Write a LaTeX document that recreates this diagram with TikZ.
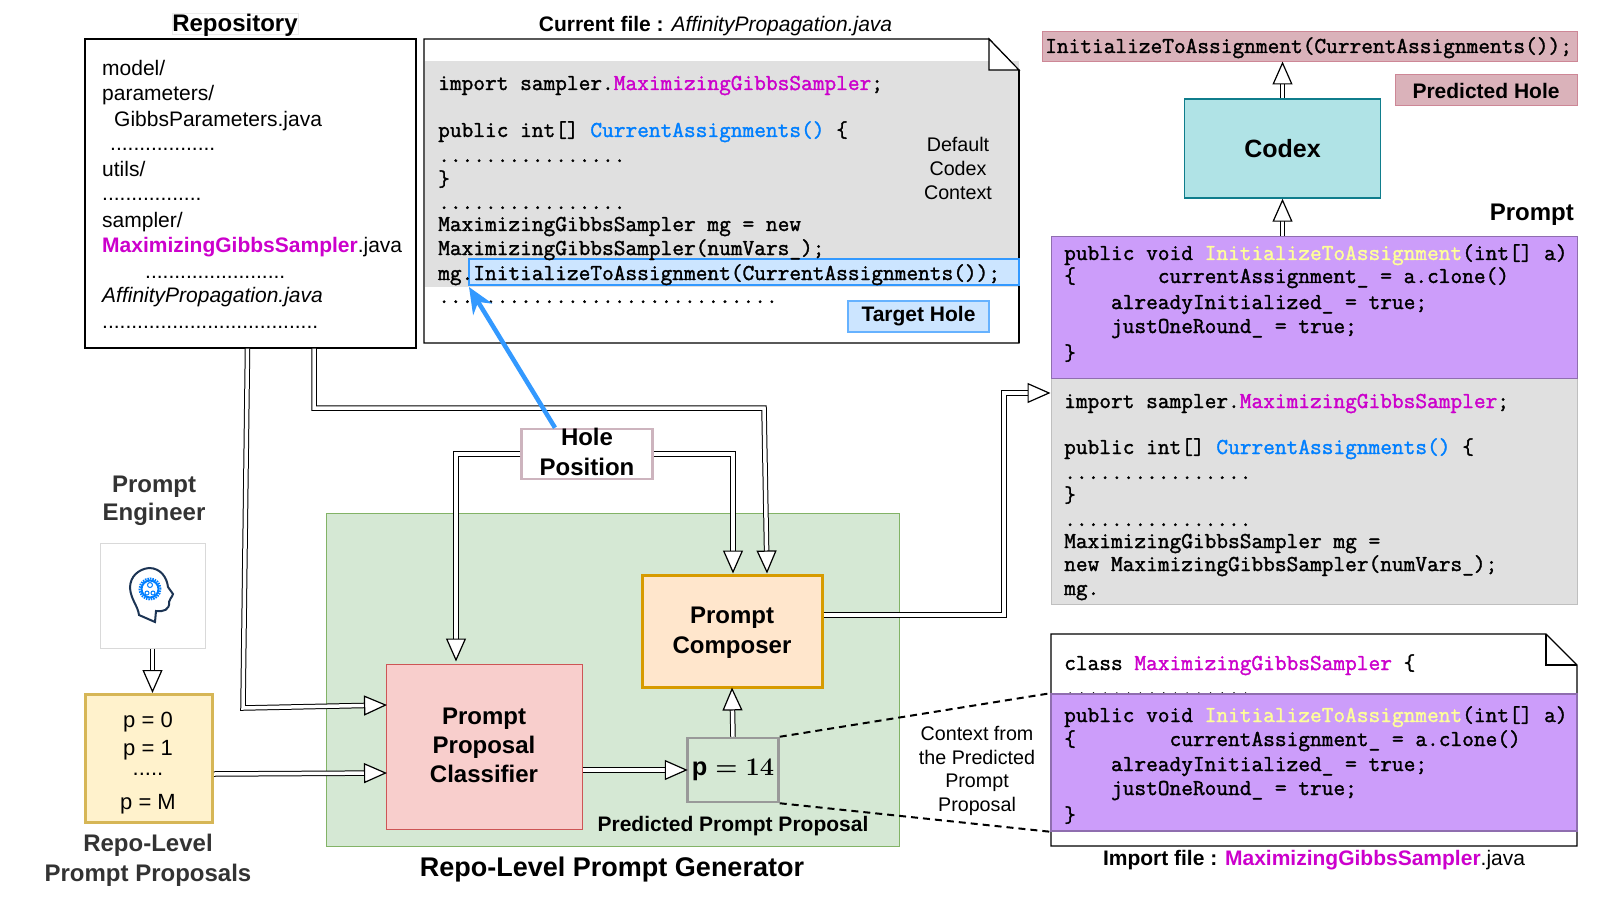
\documentclass[tikz,border=0pt]{standalone}
\usepackage{fontspec}
\setmainfont{Liberation Sans}
\newfontfamily\codefont[FakeBold=1.5]{Latin Modern Mono}
\usepackage{xcolor}
\usepackage{tikz}
\usetikzlibrary{arrows.meta}
\definecolor{mgcol}{RGB}{204,0,204}
\definecolor{cablue}{RGB}{0,127,255}
\definecolor{ityellow}{RGB}{255,255,153}
\definecolor{purplebg}{RGB}{204,157,250}
\definecolor{graybg}{RGB}{224,224,224}
\definecolor{holepink}{RGB}{218,178,186}
\definecolor{holeedge}{RGB}{205,135,150}
\definecolor{holeframe}{RGB}{205,180,190}
\definecolor{codexfill}{RGB}{176,227,230}
\definecolor{codexedge}{RGB}{15,125,140}
\definecolor{genfill}{RGB}{213,232,212}
\definecolor{genedge}{RGB}{130,179,102}
\definecolor{clfill}{RGB}{248,206,204}
\definecolor{cledge}{RGB}{205,85,85}
\definecolor{cofill}{RGB}{255,230,204}
\definecolor{coedge}{RGB}{215,155,0}
\definecolor{pfill}{RGB}{255,242,204}
\definecolor{pedge}{RGB}{214,182,86}
\definecolor{headline}{RGB}{28,52,84}
\newcommand{\fsz}[1]{\fontsize{#1}{#1}\selectfont}
\newcommand{\mg}[1]{\textcolor{mgcol}{#1}}
\newcommand{\ca}[1]{\textcolor{cablue}{#1}}
\newcommand{\iy}[1]{\textcolor{ityellow}{#1}}
\begin{document}
\begin{tikzpicture}[x=1pt,y=-1pt,
boxnode/.style={draw,rectangle,inner sep=0pt,line width=1.2pt},
code/.style={anchor=base west,inner sep=0pt,font=\codefont\fsz{22.73}},
repoline/.style={anchor=base west,inner sep=0pt,font=\fsz{21}},
plain/.style={inner sep=0pt,font=\fsz{19.7}},
head/.style={inner sep=0pt,font=\bfseries\fsz{24}},
dblarrow/.style={draw=black,double=white,double distance=3.5pt,line width=1pt,line join=miter,
  -{Triangle[open,fill=white,length=23pt,width=20pt,line width=1.2pt]}}]
\useasboundingbox (0,0) rectangle (1600,901);

\node[boxnode,draw=black!8,line width=.6pt,minimum width=126pt,minimum height=21pt] (repotitle) at (235,24) {};
\node[head] (repolabel) at (235,25) {Repository};
\node[boxnode,minimum width=331pt,minimum height=309pt] (repo) at (250.5,193.5) {};
\node[repoline] (r1) at (102,76) {model/};
\node[repoline] (r2) at (102,101) {parameters/};
\node[repoline] (r3) at (114,127) {GibbsParameters.java};
\node[repoline] (r4) at (110,151) {..................};
\node[repoline] (r5) at (102,177) {utils/};
\node[repoline] (r6) at (102,201) {.................};
\node[repoline] (r7) at (102,228) {sampler/};
\node[repoline] (r8) at (102,253) {\bfseries\mg{MaximizingGibbsSampler}\mdseries.java};
\node[repoline] (r9) at (145,278) {........................};
\node[repoline,font=\itshape\fsz{21}] (r10) at (102,302) {AffinityPropagation.java};
\node[repoline] (r11) at (102,328) {.....................................};

\node[inner sep=0pt,font=\fsz{21}] (curlabel) at (715.5,26) {\bfseries Current file : \mdseries\itshape AffinityPropagation.java};
\draw[line width=1.2pt,fill=white] (424,39) -- (989,39) -- (1019,70) -- (1019,343) -- (424,343) -- cycle;
\fill[graybg] (425,61) rectangle (1019,287);
\draw[line width=1.2pt,fill=white] (989,39) -- (989,70) -- (1019,70) -- cycle;
\draw[line width=1.2pt] (1019,70) -- (1019,343);
\node[boxnode,draw=cablue!80,fill=cablue!20,minimum width=550pt,minimum height=26pt] (targetline) at (744,272) {};
\node[code] (c1) at (438,90) {import sampler.\mg{MaximizingGibbsSampler};};
\node[code] (c2) at (438,137) {public int[] \ca{CurrentAssignments()} \{};
\node[code] (c3) at (438,162) {................};
\node[code] (c4) at (438,186) {\}};
\node[code] (c5) at (438,209) {................};
\node[code] (c6) at (438,231) {MaximizingGibbsSampler mg = new};
\node[code] (c7) at (438,255) {MaximizingGibbsSampler(numVars\_);};
\node[code] (c8) at (438,280) {mg.InitializeToAssignment(CurrentAssignments());};
\node[code] (c9) at (438,303) {.............................};
\node[plain] (d1) at (958,144) {Default};
\node[plain] (d2) at (958,168) {Codex};
\node[plain] (d3) at (958,193) {Context};
\node[boxnode,draw=cablue!60,fill=cablue!20,minimum width=141pt,minimum height=31pt,font=\bfseries\fsz{21}] (target) at (918.5,316.5) {Target Hole};

\node[boxnode,draw=holeedge,line width=1pt,fill=holepink,minimum width=535pt,minimum height=30pt] (predline) at (1309.5,47) {};
\node[code] (p0) at (1045,53) {InitializeToAssignment(CurrentAssignments());};
\node[boxnode,draw=holeedge,line width=1pt,fill=holepink,minimum width=182pt,minimum height=31pt,font=\bfseries\fsz{21}] (predhole) at (1486,90.5) {Predicted Hole};
\node[boxnode,draw=codexedge,line width=1.5pt,fill=codexfill,minimum width=196pt,minimum height=99pt,font=\bfseries\fsz{25}] (codex) at (1282.5,148.5) {Codex};
\node[head,anchor=east] (promptlabel) at (1574,215) {Prompt};

\node[rectangle,inner sep=0pt,draw=black!25,line width=1pt,fill=graybg,minimum width=526pt,minimum height=226pt] (promptgray) at (1314,491) {};
\node[rectangle,inner sep=0pt,draw=purplebg!70!black,line width=1pt,fill=purplebg,minimum width=526pt,minimum height=141pt] (promptpurple) at (1314,307.5) {};
\node[code] (q1) at (1064,260) {public void \iy{InitializeToAssignment}(int[] a)};
\node[code] (q2) at (1064,283) {\{\ \ \ \ \ \ \ currentAssignment\_ = a.clone()};
\node[code] (q3) at (1064,309) {\ \ \ \ alreadyInitialized\_ = true;};
\node[code] (q4) at (1064,333) {\ \ \ \ justOneRound\_ = true;};
\node[code] (q5) at (1064,360) {\}};
\node[code] (q6) at (1064,408) {import sampler.\mg{MaximizingGibbsSampler};};
\node[code] (q7) at (1064,454) {public int[] \ca{CurrentAssignments()} \{};
\node[code] (q8) at (1064,479) {................};
\node[code] (q9) at (1064,502) {\}};
\node[code] (q10) at (1064,526) {................};
\node[code] (q11) at (1064,548) {MaximizingGibbsSampler mg =};
\node[code] (q12) at (1064,571) {new MaximizingGibbsSampler(numVars\_);};
\node[code] (q13) at (1064,595) {mg.};

\draw[line width=1.2pt,fill=white] (1051,634) -- (1546,634) -- (1577,665) -- (1577,846) -- (1051,846) -- cycle;
\draw[line width=1.2pt] (1546,634) -- (1546,665) -- (1577,665);
\node[code] (i1) at (1064,670) {class \mg{MaximizingGibbsSampler} \{};
\node[code] (i2) at (1064,695) {................};
\node[rectangle,inner sep=0pt,draw=purplebg!70!black,line width=1.5pt,fill=purplebg,minimum width=526pt,minimum height=137pt] (importpurple) at (1314,762.5) {};
\node[code] (i3) at (1064,722) {public void \iy{InitializeToAssignment}(int[] a)};
\node[code] (i4) at (1064,746) {\{\ \ \ \ \ \ \ \ currentAssignment\_ = a.clone()};
\node[code] (i5) at (1064,771) {\ \ \ \ alreadyInitialized\_ = true;};
\node[code] (i6) at (1064,795) {\ \ \ \ justOneRound\_ = true;};
\node[code] (i7) at (1064,822) {\}};
\node[inner sep=0pt,font=\fsz{21}] (importlabel) at (1314,860) {\bfseries Import file : \mg{MaximizingGibbsSampler}\mdseries.java};

\node[rectangle,inner sep=0pt,draw=genedge,line width=1pt,fill=genfill,minimum width=573pt,minimum height=333pt] (generator) at (612.5,679.5) {};
\node[boxnode,draw=cledge,line width=1pt,fill=clfill,minimum width=196pt,minimum height=165pt] (classifier) at (484,746.5) {};
\node[head] (cl1) at (484,719) {Prompt};
\node[head] (cl2) at (484,747) {Proposal};
\node[head] (cl3) at (484,774) {Classifier};
\node[boxnode,draw=coedge,line width=3pt,fill=cofill,minimum width=180pt,minimum height=112pt] (composer) at (732,631) {};
\node[head] (co1) at (732,618) {Prompt};
\node[head] (co2) at (732,648) {Composer};
\node[boxnode,draw=holeframe,line width=2.5pt,fill=white,minimum width=131pt,minimum height=50pt] (holepos) at (587,454) {};
\node[head] (h1) at (587,437) {Hole};
\node[head] (h2) at (587,467) {Position};
\node[boxnode,draw=black!40,line width=2.5pt,minimum width=91pt,minimum height=64pt,font=\fsz{24.88}] (pfourteen) at (733,770) {\scalebox{1.02}{\boldmath$\mathrm{p}=14$}};
\node[inner sep=0pt,font=\bfseries\fsz{21}] (predlabel) at (733,826) {Predicted Prompt Proposal};
\node[inner sep=0pt,font=\bfseries\fsz{27}] (genlabel) at (612,870) {Repo-Level Prompt Generator};

\node[head,text=black!80] (e1) at (154,487) {Prompt};
\node[head,text=black!80] (e2) at (154,514) {Engineer};
\node[boxnode,draw=black!15,line width=1pt,minimum width=105pt,minimum height=105pt] (icon) at (152.5,595.5) {};
\draw[line width=2pt,draw=headline,fill=white] (139,615) .. controls (138,606) and (131,600) .. (130,588) .. controls (130,576) and (139,569) .. (149,568) .. controls (161,568) and (167,578) .. (168,587) -- (173,594) .. controls (172,598) and (169,599) .. (169,602) .. controls (170,610) and (163,612) .. (156,611) -- (155,622) -- cycle;
\draw[cablue,line width=2pt,dash pattern=on 1.5pt off 1pt] (150,589) circle (10.5pt);
\draw[cablue,line width=2pt] (150,589) circle (8.5pt);
\draw[cablue,line width=1pt] (150,585) circle (2.5pt) (147,593) circle (2pt) (153,593) circle (2pt);

\node[boxnode,draw=pedge,line width=3pt,fill=pfill,minimum width=127pt,minimum height=128pt] (pbox) at (149,758.5) {};
\node[plain,font=\fsz{22}] (pa) at (148,722) {p = 0};
\node[plain,font=\fsz{22}] (pb) at (148,750) {p = 1};
\node[plain,font=\fsz{22}] (pc) at (148,774) {.....};
\node[plain,font=\fsz{22}] (pd) at (148,804) {p = M};
\node[head,text=black!80] (rl1) at (148,845) {Repo-Level};
\node[head,text=black!80] (rl2) at (148,875) {Prompt Proposals};

\node[plain] (x1) at (977,733) {Context from};
\node[plain] (x2) at (977,757) {the Predicted};
\node[plain] (x3) at (977,783) {Prompt};
\node[plain] (x4) at (977,806) {Proposal};

\draw[dblarrow] ([xshift=-3pt]repo.south) -- (243,708) -- ([xshift=1.5pt,yshift=41.5pt]classifier.west);
\draw[dblarrow] ([xshift=63.5pt]repo.south) -- (314,408) -- (764,408) -- ([xshift=35pt]composer.north);
\draw[dblarrow] (holepos.west) -- (456,454) -- ([xshift=-28pt,yshift=2pt]classifier.north);
\draw[dblarrow] (holepos.east) -- (733,454) -- ([xshift=1pt]composer.north);
\draw[dblarrow] (icon.south) -- (pbox.north -| icon.south);
\draw[dblarrow] ([yshift=-15.5pt]pbox.east) -- ([xshift=1.5pt,yshift=-26.5pt]classifier.west);
\draw[dblarrow] ([yshift=-23.5pt]classifier.east) -- ([xshift=1.5pt]pfourteen.west);
\draw[dblarrow] (pfourteen.north) -- ([yshift=1pt]composer.south);
\draw[dblarrow] ([yshift=16pt]composer.east) -- (1004,615) -- (1004,393) -- (promptgray.north west |- 0,393);
\draw[dblarrow] (codex.north) -- ([yshift=1pt]predline.south -| codex.north);
\draw[dblarrow] (promptpurple.north -| codex.south) -- (codex.south);
\draw[line width=2pt,dash pattern=on 7pt off 5pt] (pfourteen.north east) -- (importpurple.north west);
\draw[line width=2pt,dash pattern=on 7pt off 5pt] (pfourteen.south east) -- (importpurple.south west);
\draw[line width=4.5pt,color=cablue!80,-{Stealth[length=26pt,width=22pt]}] ([xshift=-32pt]holepos.north) -- (469,287);
\end{tikzpicture}
\end{document}
